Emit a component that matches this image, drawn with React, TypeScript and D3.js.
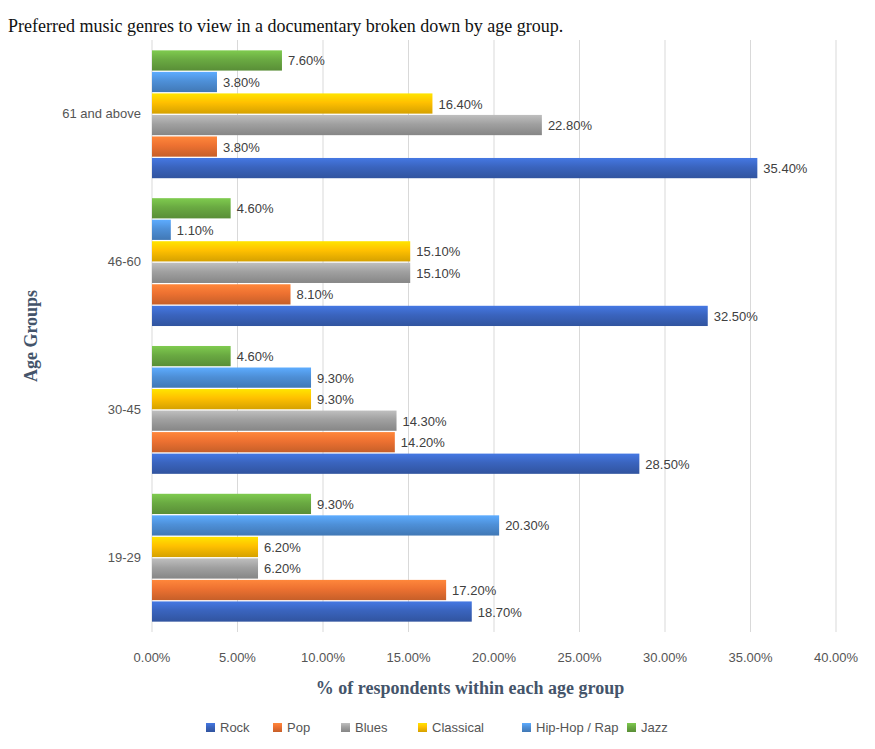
import React, { useEffect, useRef } from 'react';
import * as d3 from 'd3';

const ageGroups = ['61 and above', '46-60', '30-45', '19-29'];
const genres = ['Rock', 'Pop', 'Blues', 'Classical', 'Hip-Hop / Rap', 'Jazz'];
const colors = ['#3A64BE', '#ED7131', '#A0A0A0', '#FFC000', '#4E90D8', '#6AAA42'];
// values per genre, same order as ageGroups
const rock = [35.4, 32.5, 28.5, 18.7];
const pop = [3.8, 8.1, 14.2, 17.2];
const blues = [22.8, 15.1, 14.3, 6.2];
const classical = [16.4, 15.1, 9.3, 6.2];
const hiphop = [3.8, 1.1, 9.3, 20.3];
const jazz = [7.6, 4.6, 4.6, 9.3];
const xTicks = [0, 5, 10, 15, 20, 25, 30, 35, 40];

const App: React.FC = () => {
  const svgRef = useRef<SVGSVGElement>(null);

  useEffect(() => {
    if (!svgRef.current) return;
    const svg = d3.select(svgRef.current);
    svg.selectAll('*').remove();
    const W = 875, H = 749;
    svg.attr('width', W).attr('height', H);
    const font = 'Liberation Sans, Arial, sans-serif';

    const series = [rock, pop, blues, classical, hiphop, jazz];
    const x = d3.scaleLinear().domain([0, 40]).range([152, 836]);
    const y = d3.scaleBand().domain(ageGroups).range([40, 632]).paddingInner(0.135).paddingOuter(0.07);
    // top to bottom within a group: Jazz ... Rock
    const inner = d3.scaleBand<number>().domain([5, 4, 3, 2, 1, 0]).range([0, y.bandwidth()]).paddingInner(0.06);

    const defs = svg.append('defs');
    colors.forEach((c, i) => {
      const g = defs.append('linearGradient').attr('id', `g${i}`).attr('x1', 0).attr('y1', 0).attr('x2', 0).attr('y2', 1);
      g.append('stop').attr('offset', '0%').attr('stop-color', d3.color(c)!.brighter(0.5).toString());
      g.append('stop').attr('offset', '45%').attr('stop-color', c);
      g.append('stop').attr('offset', '100%').attr('stop-color', d3.color(c)!.darker(0.5).toString());
    });

    svg.append('text').attr('x', 8).attr('y', 32).attr('font-family', 'Liberation Serif, Times New Roman, serif')
      .attr('font-size', 18).attr('fill', '#111').text('Preferred music genres to view in a documentary broken down by age group.');

    svg.append('g').selectAll('line').data(xTicks).enter().append('line')
      .attr('x1', d => x(d)).attr('x2', d => x(d)).attr('y1', 40).attr('y2', 632)
      .attr('stroke', '#d9d9d9').attr('stroke-width', 1);

    svg.append('g').selectAll('text').data(xTicks).enter().append('text')
      .attr('x', d => x(d)).attr('y', 662).attr('text-anchor', 'middle')
      .attr('font-family', font).attr('font-size', 13).attr('fill', '#555')
      .text(d => d.toFixed(2) + '%');

    svg.append('g').selectAll('text').data(ageGroups).enter().append('text')
      .attr('x', 141).attr('y', d => y(d)! + y.bandwidth() / 2 + 4).attr('text-anchor', 'end')
      .attr('font-family', font).attr('font-size', 13).attr('fill', '#555').text(d => d);

    series.forEach((vals, si) => {
      const g = svg.append('g');
      vals.forEach((v, ai) => {
        const yy = y(ageGroups[ai])! + inner(si)!;
        g.append('rect').attr('x', x(0)).attr('y', yy).attr('width', x(v) - x(0))
          .attr('height', inner.bandwidth()).attr('fill', `url(#g${si})`);
        g.append('text').attr('x', x(v) + 6).attr('y', yy + inner.bandwidth() / 2 + 5)
          .attr('font-family', font).attr('font-size', 13).attr('fill', '#404040')
          .text(v.toFixed(2) + '%');
      });
    });

    svg.append('text').attr('transform', `translate(37,${336}) rotate(-90)`).attr('text-anchor', 'middle')
      .attr('font-family', 'Liberation Serif, Times New Roman, serif').attr('font-weight', 'bold')
      .attr('font-size', 18).attr('fill', '#44546A').text('Age Groups');

    svg.append('text').attr('x', 470).attr('y', 694).attr('text-anchor', 'middle')
      .attr('font-family', 'Liberation Serif, Times New Roman, serif').attr('font-weight', 'bold')
      .attr('font-size', 18).attr('fill', '#44546A').text('% of respondents within each age group');

    const legendX = [206, 273, 341, 418, 522, 627];
    genres.forEach((gname, i) => {
      svg.append('rect').attr('x', legendX[i]).attr('y', 723).attr('width', 9).attr('height', 9).attr('fill', `url(#g${i})`);
      svg.append('text').attr('x', legendX[i] + 14).attr('y', 732).attr('font-family', font)
        .attr('font-size', 13).attr('fill', '#555').text(gname);
    });
  }, []);

  return <svg ref={svgRef} style={{ position: 'absolute', left: 0, top: 0 }}></svg>;
};

export default App;
